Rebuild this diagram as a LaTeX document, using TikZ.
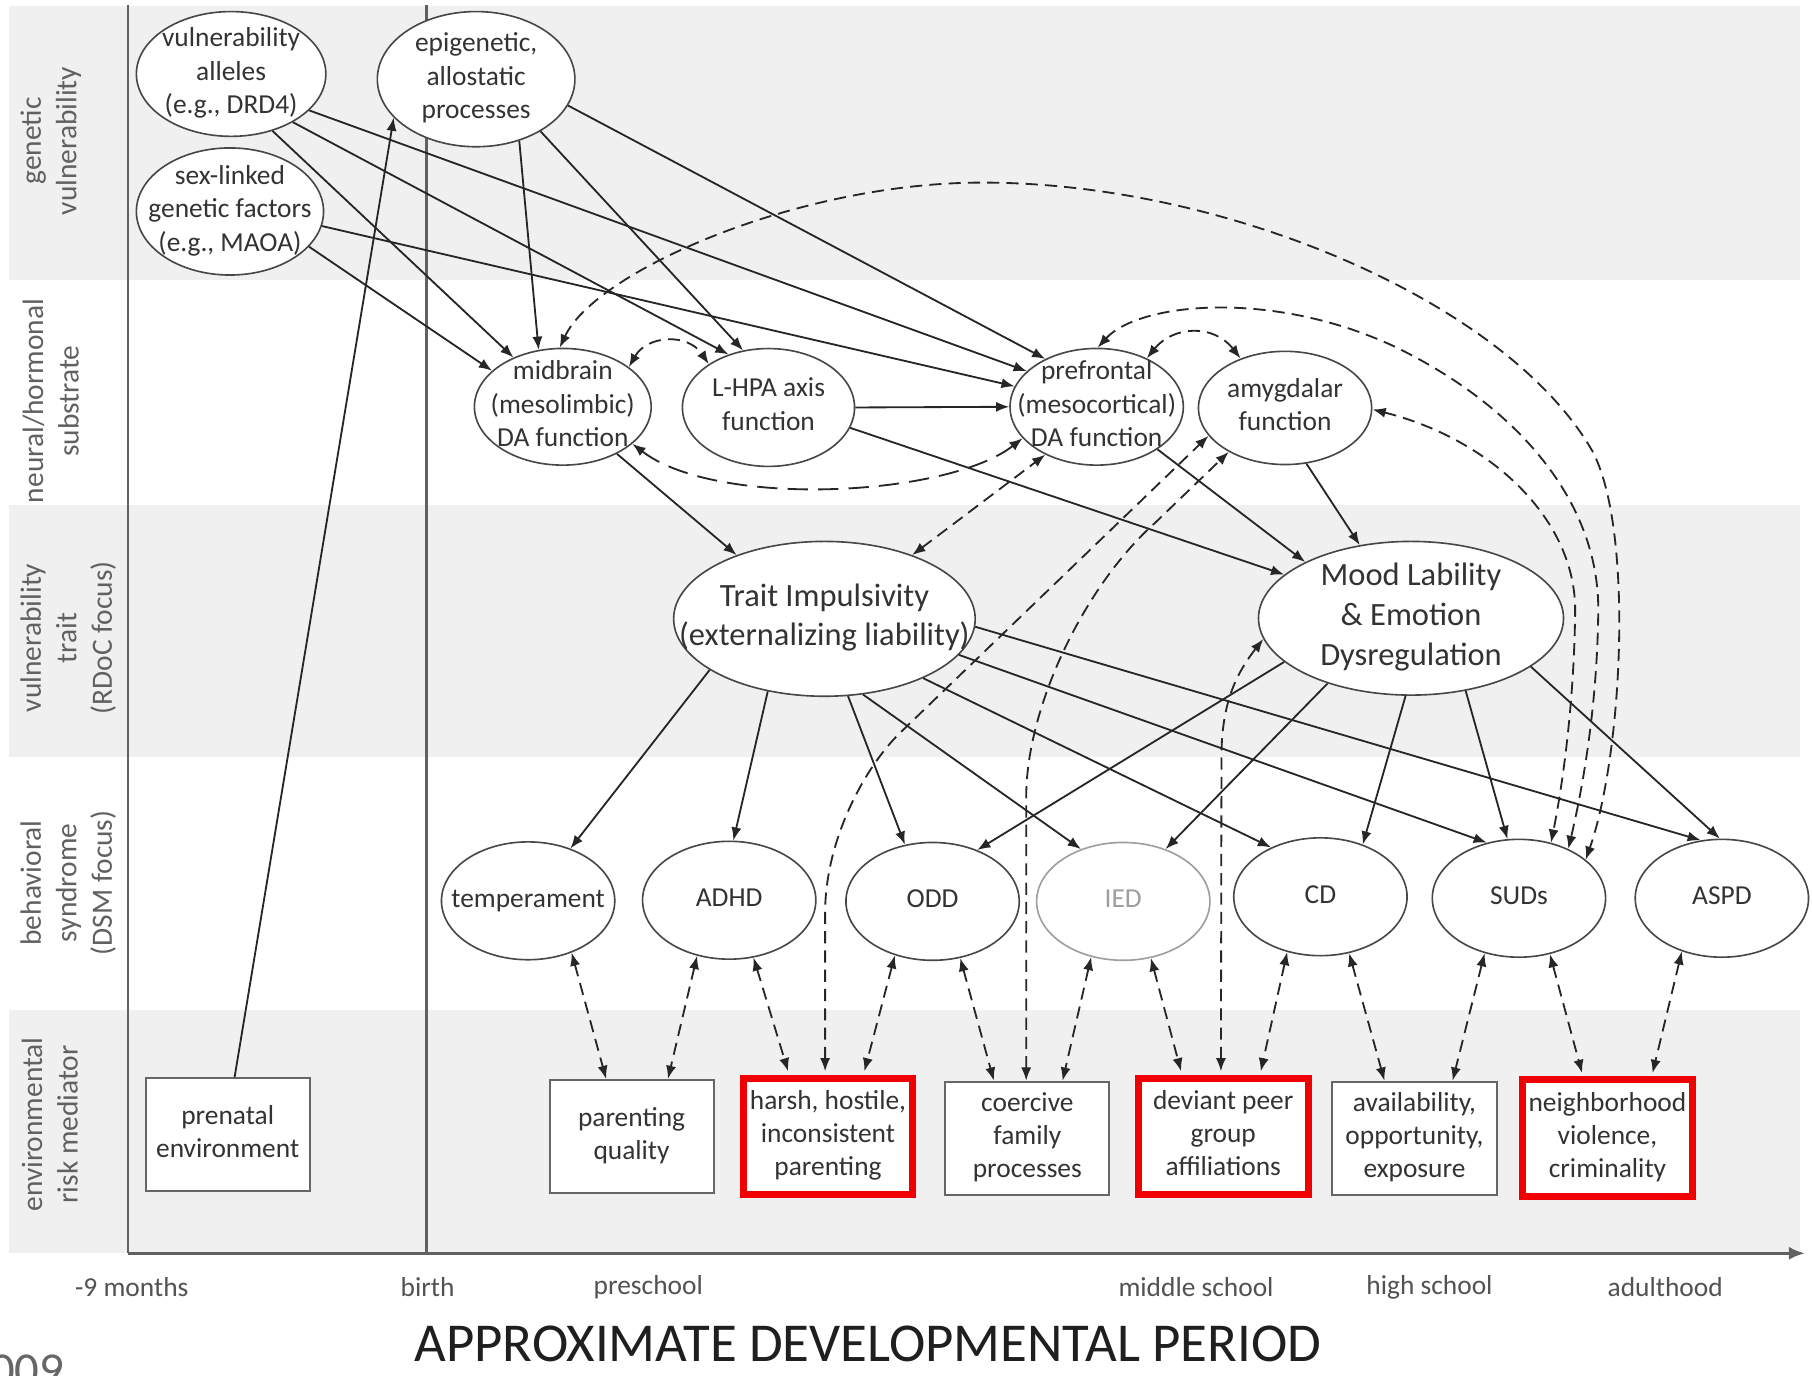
\documentclass[tikz,border=0pt]{standalone}
\usepackage{fontspec}
\setmainfont{Carlito}
\usetikzlibrary{arrows.meta,shapes.geometric,calc}

% multi-line text in a zero-size box, so an outline keeps the size it is given
\newcommand\ctr[1]{\smash{\makebox[0pt]{\raisebox{-0.25em}{\begin{tabular}{@{}c@{}}#1\end{tabular}}}}}

\definecolor{band}{gray}{0.94}
\definecolor{ink}{gray}{0.2}
\definecolor{edge}{gray}{0.28}
\definecolor{faint}{gray}{0.62}
\definecolor{axiscol}{gray}{0.38}
\definecolor{hilite}{RGB}{240,0,0}

\begin{document}
\begin{tikzpicture}[x=0.02cm, y=-0.02cm,
  >={Latex[length=6.5pt,width=5pt]},
  oval/.style={ellipse, draw=edge, line width=0.8pt, fill=white, inner sep=0pt,
    text=ink, font=\fontsize{13.5}{16.5}\selectfont},
  trait/.style={oval, font=\fontsize{16}{19.5}\selectfont},
  syn/.style={oval, minimum width=3cm, minimum height=2.04cm},
  envbox/.style={rectangle, draw=black!60, line width=1pt, fill=white, inner sep=0pt,
    text=ink, font=\fontsize{13.5}{16.3}\selectfont, minimum width=2.84cm, minimum height=1.96cm},
  redbox/.style={envbox, draw=hilite, line width=3.4pt, minimum width=2.94cm, minimum height=2.02cm},
  link/.style={->, line width=0.9pt, draw=black!85},
  dlink/.style={<->, line width=0.9pt, draw=black!85, dash pattern=on 6pt off 3.5pt},
  rowlbl/.style={rotate=90, text=black!62, font=\fontsize{14.5}{17.5}\selectfont, align=center, inner sep=0pt},
  tick/.style={text=black!68, font=\fontsize{13.5}{16}\selectfont, inner sep=0pt},
  axisline/.style={draw=axiscol, line width=1.2pt},
]
\clip (0,0) rectangle (1568,1190);
\fill[white] (0,0) rectangle (1568,1190);

% alternating level bands
\fill[band] (8,5.5) rectangle (1558,242);
\fill[band] (8,437) rectangle (1558,655);
\fill[band] (8,874) rectangle (1558,1084.5);

% level captions
\node[rowlbl] (capgen) at (44,122) {genetic\\vulnerability};
\node[rowlbl] (capneu) at (44,347) {neural/hormonal\\substrate};
\node[rowlbl] (captra) at (59,552) {vulnerability\\trait\\(RDoC focus)};
\node[rowlbl] (capsyn) at (59,764) {behavioral\\syndrome\\(DSM focus)};
\node[rowlbl] (capenv) at (43,973) {environmental\\risk mediator};

% time axis and the birth line
\draw[axisline] (111,4) -- (111,1084.5);
\draw[axisline] (369,4) -- (369,1084.5);
\draw[axisline, line width=1.6pt, -{Latex[length=8pt,width=6.5pt]}] (111,1084.5) -- (1562,1084.5);

\node[tick] (tk1) at (114,1114) {-9 months};
\node[tick] (tk2) at (370,1114) {birth};
\node[tick] (tk3) at (561,1114) {preschool};
\node[tick] (tk4) at (1035,1114) {middle school};
\node[tick] (tk5) at (1237,1114) {high school};
\node[tick] (tk6) at (1441,1114) {adulthood};
\node[anchor=base, text=black!88, font=\fontsize{27}{31}\selectfont, inner sep=0pt, text depth=0pt] (ttl) at (751,1178) {APPROXIMATE DEVELOPMENTAL PERIOD};
\node[anchor=base west, text=black!60, font=\fontsize{24}{28}\selectfont, inner sep=0pt] (yr) at (-9,1200) {009};

% genetic level
\node[oval, minimum width=3.28cm, minimum height=2.16cm] (VA) at (200,64) {\ctr{vulnerability\\alleles\\(e.g., DRD4)}};
\node[oval, minimum width=3.42cm, minimum height=2.34cm] (EP) at (412,68.5) {\ctr{epigenetic,\\allostatic\\processes}};
\node[oval, minimum width=3.24cm, minimum height=2.2cm] (SL) at (199,183) {\ctr{sex-linked\\genetic factors\\(e.g., MAOA)}};

% neural / hormonal level
\node[oval, minimum width=3.06cm, minimum height=2.02cm] (MB) at (487,352) {\ctr{midbrain\\(mesolimbic)\\DA function}};
\node[oval, minimum width=2.98cm, minimum height=2.04cm] (HPA) at (665,352.6) {\ctr{L-HPA axis\\function}};
\node[oval, minimum width=3.0cm, minimum height=2.02cm] (PF) at (949,352) {\ctr{prefrontal\\(mesocortical)\\DA function}};
\node[oval, minimum width=3.0cm, minimum height=1.96cm] (AM) at (1112,353) {\ctr{amygdalar\\function}};

% trait level
\node[trait, minimum width=5.22cm, minimum height=2.68cm] (TI) at (713.4,535.5) {\ctr{Trait Impulsivity\\(externalizing liability)}};
\node[trait, minimum width=5.28cm, minimum height=2.66cm] (ML) at (1221,535) {\ctr{Mood Lability\\\& Emotion\\Dysregulation}};

% syndrome level
\node[syn] (TE) at (457,779.5) {\ctr{temperament}};
\node[syn] (AD) at (631,779) {\ctr{ADHD}};
\node[syn] (OD) at (807,780) {\ctr{ODD}};
\node[syn, draw=faint, text=faint] (IE) at (972,780) {\ctr{IED}};
\node[syn] (CD) at (1142.6,776) {\ctr{CD}};
\node[syn] (SU) at (1314.4,777.3) {\ctr{SUDs}};
\node[syn] (AS) at (1490,777.3) {\ctr{ASPD}};

% environmental level
\node[envbox] (PE) at (197,982) {\ctr{prenatal\\environment}};
\node[envbox] (PQ) at (546.5,983.5) {\ctr{parenting\\quality}};
\node[redbox] (HH) at (716.5,983.5) {\ctr{harsh, hostile,\\inconsistent\\parenting}};
\node[envbox] (CF) at (889,985) {\ctr{coercive\\family\\processes}};
\node[redbox] (DP) at (1058.5,983.5) {\ctr{deviant peer\\group\\affiliations}};
\node[envbox] (AV) at (1224,985) {\ctr{availability,\\opportunity,\\exposure}};
\node[redbox] (NB) at (1391,985) {\ctr{neighborhood\\violence,\\criminality}};

% genetic and epigenetic influences on neural systems
\draw[link] (VA.-54.2) -- (MB.135);
\draw[link] (VA.-38.2) -- (HPA.127.1);
\draw[link] (VA.-25.2) -- (PF.153.4);
\draw[link] (SL.-24.9) -- (MB.153.4);
\draw[link] (SL.-9.1) -- (PF.166.3);
\draw[link] (EP.-55.6) -- (MB.113.9);
\draw[link] (EP.-39.6) -- (HPA.114.8);
\draw[link] (EP.-16.6) -- (PF.137.9);
\draw[link] ($(PE.north)+(6,0)$) -- (EP.205.9);

% neural systems
\draw[link] (HPA.east) -- (PF.west);
\draw[link] (HPA.-14.7) -- (ML.161.1);
\draw[link] (PF.-35.1) -- (ML.152.1);
\draw[link] (AM.-69.6) -- (ML.125.2);
\draw[link] (MB.-41.9) -- (TI.144.4);
\draw[dlink] (MB.31.9) .. controls (560,290) and (595,288) .. (HPA.144.2);
\draw[dlink, dash pattern=on 10pt off 5pt] (MB.-28.9) .. controls (620,440) and (820,430) .. (PF.203.7);
\draw[dlink] (PF.44.4) .. controls (1015,282) and (1050,280) .. (AM.132.7);
\draw[dlink] (TI.36.2) -- (PF.223.2);

% traits to syndromes
\draw[link] (TI.204.6) -- (TE.51.2);
\draw[link] (TI.232.6) -- (AD.86.6);
\draw[link] (TI.-73) -- (OD.116.4);
\draw[link] (TI.-63.5) -- (IE.129.8);
\draw[link] (TI.-31) -- (CD.135.4);
\draw[link] (TI.-15.4) -- (SU.120);
\draw[link] (TI.-3.3) -- (AS.110);
\draw[link] (ML.199.2) -- (OD.49.5);
\draw[link] (ML.218.6) -- (IE.51.2);
\draw[link] (ML.-94.2) -- (CD.51.8);
\draw[link] (ML.-53.8) -- (SU.101.6);
\draw[link] (ML.-22.7) -- (AS.92);

% syndromes and environmental mediators
\draw[dlink] (TE.-50) -- ($(PQ.north)+(-22,0)$);
\draw[dlink] (AD.-120.6) -- ($(PQ.north)+(31.5,0)$);
\draw[dlink] (AD.-67.9) -- ($(HH.north)+(-34.5,-3)$);
\draw[dlink] (OD.-125.8) -- ($(HH.north)+(31.5,-3)$);
\draw[dlink] (OD.-64.6) -- ($(CF.north)+(-29,0)$);
\draw[dlink] (IE.-120.8) -- ($(CF.north)+(30.5,0)$);
\draw[dlink] (IE.-64.6) -- ($(DP.north)+(-36.5,-3)$);
\draw[dlink] (CD.-121) -- ($(DP.north)+(32.5,-3)$);
\draw[dlink] (CD.-63.5) -- ($(AV.north)+(-26,0)$);
\draw[dlink] (SU.-122) -- ($(AV.north)+(33,0)$);
\draw[dlink] (SU.-61.9) -- ($(NB.north)+(-22,-3)$);
\draw[dlink] (AS.-127.8) -- ($(NB.north)+(39,-3)$);

% environmental mediators reaching up to neural and trait levels
\draw[dlink] ($(HH.north)+(-2.5,-3)$) -- (714,790) .. controls (714,725) and (750,662) .. (779,634) -- (AM.200.2);
\draw[dlink] ($(CF.north)+(-1,0)$) -- (888,690) .. controls (888,610) and (940,505) .. (1000,452) -- (AM.218);
\draw[dlink] ($(DP.north)+(-2,-3)$) -- (1057,650) .. controls (1058,610) and (1068,585) .. (ML.188.3);

% long feedback arcs into substance use
\draw[dlink] (MB.93) .. controls (515,235) and (690,158) .. (850,158)
  .. controls (1060,158) and (1300,260) .. (1376,387)
  .. controls (1414,450) and (1405,650) .. (SU.30.6);
\draw[dlink] (PF.89) .. controls (985,262) and (1100,250) .. (1207,300)
  .. controls (1320,355) and (1385,440) .. (1383,531)
  .. controls (1382,610) and (1370,680) .. (SU.45.5);
\draw[dlink] (AM.-1.5) .. controls (1290,380) and (1365,450) .. (1363,531)
  .. controls (1362,610) and (1352,680) .. (SU.60.9);
\end{tikzpicture}
\end{document}
